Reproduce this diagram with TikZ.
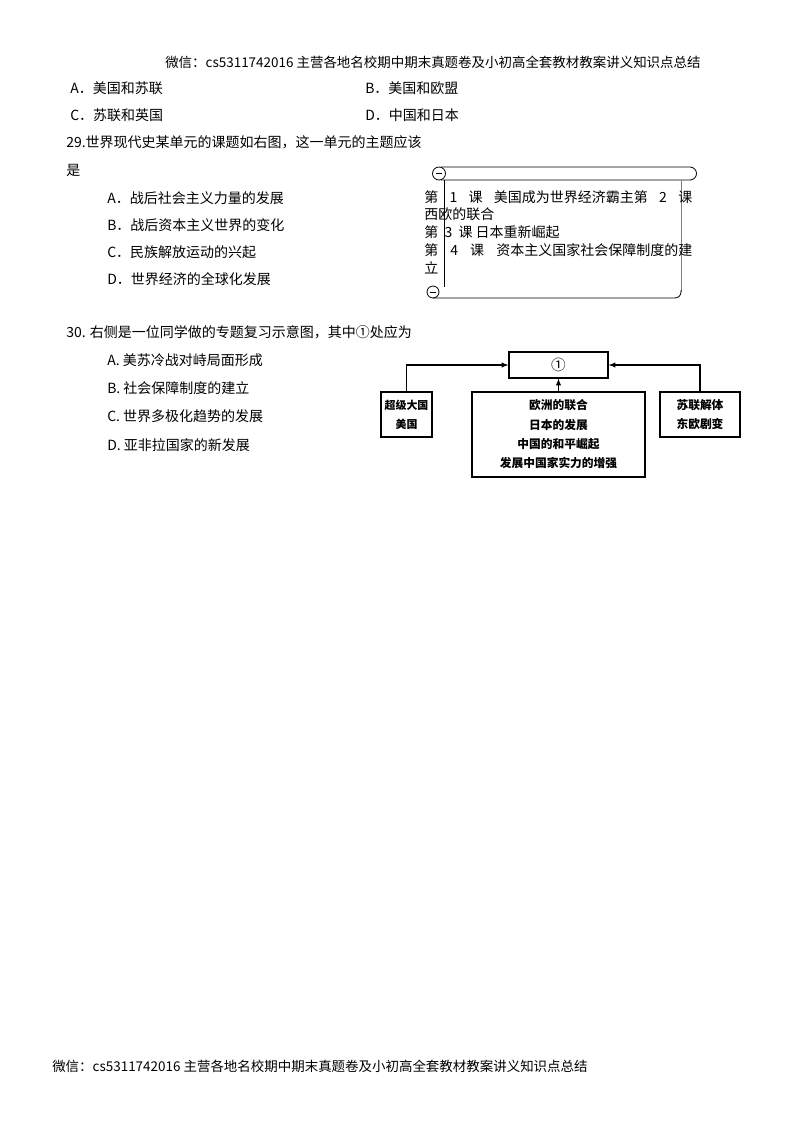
\documentclass[tikz,border=0pt]{standalone}
\usepackage{fontspec}
\setmainfont{Liberation Serif}
\newfontfamily\cjk{Noto Sans CJK SC}
\begin{document}
\begin{tikzpicture}[x=0.75pt,y=-0.75pt,
 t/.style={anchor=west,inner sep=0pt,font=\cjk\fontsize{10.5pt}{12pt}\selectfont},
 hf/.style={anchor=west,inner sep=0pt,font=\cjk\fontsize{10.1pt}{12pt}\selectfont},
 bx/.style={draw,thick,inner sep=0pt},
 bt/.style={inner sep=0pt,align=center,font=\cjk\bfseries\fontsize{8.8pt}{14.5pt}\selectfont},
 sl/.style={line width=0.6pt},
 ar/.style={draw,thick,-latex}]
\useasboundingbox (0,0) rectangle (800,1129);
\node[hf] (h) at (165,62) {微信：cs5311742016 主营各地名校期中期末真题卷及小初高全套教材教案讲义知识点总结};
\node[t] (a28) at (70,88) {A．美国和苏联};
\node[t] (b28) at (365,88) {B．美国和欧盟};
\node[t] (c28) at (70,115) {C．苏联和英国};
\node[t] (d28) at (365,115) {D．中国和日本};
\node[t] (q29) at (66,142) {29.世界现代史某单元的课题如右图，这一单元的主题应该};
\node[t] (q29b) at (66,170) {是};
\node[t] (a29) at (107,198) {A．战后社会主义力量的发展};
\node[t] (b29) at (107,225) {B．战后资本主义世界的变化};
\node[t] (c29) at (107,252) {C．民族解放运动的兴起};
\node[t] (d29) at (107,279) {D．世界经济的全球化发展};
% scroll
\draw[sl] (441,167) -- (690,167) arc(-90:90:6.5) -- (441,180);
\draw[sl] (439,173.5) circle[radius=6.5];
\draw[sl] (436,173.5) -- (442,173.5);
\draw[sl] (444,180) -- (444,287);
\draw[sl,gray] (681,180) -- (681,292);
\draw[sl] (433,292) circle[radius=6];
\draw[sl] (433,298) -- (675,298) arc(90:0:6) -- (681,290);
\draw[sl] (430,292) -- (436,292);
\node[t] (s1) at (424,197) {\makebox[201pt][s]{第 1 课 美国成为世界经济霸主第 2 课}};
\node[t] (s2) at (424,214) {西欧的联合};
\node[t] (s3) at (424,232) {第\ \ 3\ \ 课\ 日本重新崛起};
\node[t] (s4) at (424,250) {\makebox[201pt][s]{第 4 课 资本主义国家社会保障制度的建}};
\node[t] (s5) at (424,268) {立};
\node[t] (q30) at (66,332) {30. 右侧是一位同学做的专题复习示意图，其中①处应为};
\node[t] (a30) at (107,360) {A. 美苏冷战对峙局面形成};
\node[t] (b30) at (107,388) {B. 社会保障制度的建立};
\node[t] (c30) at (107,416) {C. 世界多极化趋势的发展};
\node[t] (d30) at (107,445) {D. 亚非拉国家的新发展};
% diagram
\node[bx,minimum width=99*0.75pt,minimum height=26*0.75pt,font=\cjk\fontsize{11pt}{12pt}\selectfont] (top) at (558.5,365) {①};
\node[bx,minimum width=51*0.75pt,minimum height=45*0.75pt] (L) at (406.5,414.5) {};
\node[bt,font=\cjk\bfseries\fontsize{8.2pt}{14.5pt}\selectfont] at (L) {超级大国\\美国};
\node[bx,minimum width=173*0.75pt,minimum height=85*0.75pt] (C) at (558.5,434.5) {};
\node[bt] at (C) {欧洲的联合\\日本的发展\\中国的和平崛起\\发展中国家实力的增强};
\node[bx,minimum width=80*0.75pt,minimum height=45*0.75pt] (R) at (700,414.5) {};
\node[bt] at (R) {苏联解体\\东欧剧变};
\draw[ar] (L.north) |- (top.west);
\draw[ar] (R.north) |- (top.east);
\draw[ar] (C.north) -- (top.south);
\node[hf] (f) at (52,1066) {微信：cs5311742016 主营各地名校期中期末真题卷及小初高全套教材教案讲义知识点总结};
\end{tikzpicture}
\end{document}
